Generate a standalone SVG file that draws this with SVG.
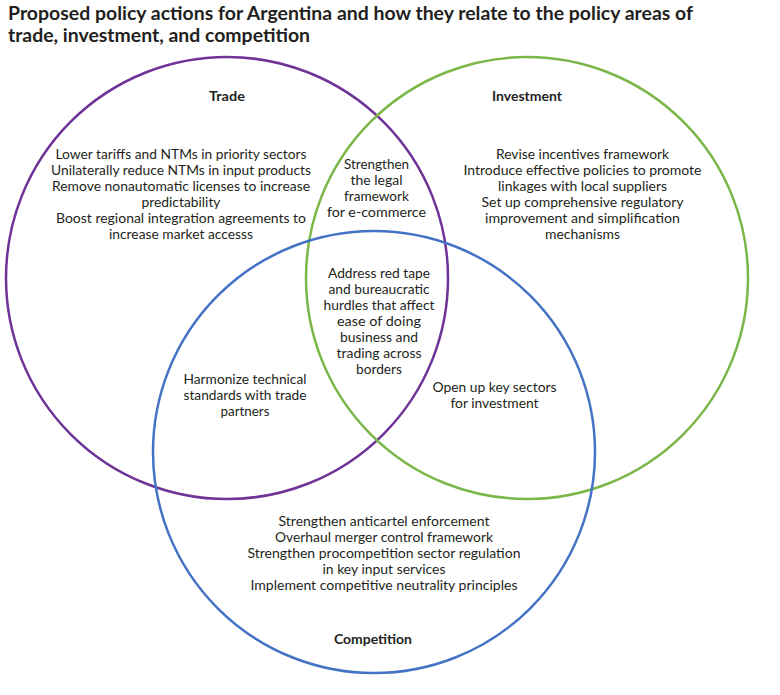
<svg xmlns="http://www.w3.org/2000/svg" width="780" height="695" viewBox="0 0 780 695">
<style>
.c{fill:none;stroke-width:2.5}
.t{font-family:Lato,"Open Sans","Liberation Sans",sans-serif;font-size:13px;fill:#231f20;text-anchor:middle}
.h{font-family:Lato,"Open Sans","Liberation Sans",sans-serif;font-size:13px;font-weight:bold;fill:#231f20;text-anchor:middle}
.ti{font-family:Lato,"Open Sans","Liberation Sans",sans-serif;font-size:19px;font-weight:bold;fill:#231f20}
</style>
<rect width="780" height="695" fill="#ffffff"/>
<g id="title">
<text class="ti" x="8" y="20" textLength="685" lengthAdjust="spacingAndGlyphs">Proposed policy actions for Argentina and how they relate to the policy areas of</text>
<text class="ti" x="8" y="42" textLength="302" lengthAdjust="spacingAndGlyphs">trade, investment, and competition</text>
</g>
<g id="trade">
<circle class="c" cx="227" cy="278" r="221" stroke="#6f3398"/>
<text class="h" x="227" y="101" textLength="36" lengthAdjust="spacingAndGlyphs">Trade</text>
<text class="t" x="181" y="159" textLength="251" lengthAdjust="spacingAndGlyphs">Lower tariffs and NTMs in priority sectors</text>
<text class="t" x="181" y="175" textLength="260" lengthAdjust="spacingAndGlyphs">Unilaterally reduce NTMs in input products</text>
<text class="t" x="181" y="191" textLength="258" lengthAdjust="spacingAndGlyphs">Remove nonautomatic licenses to increase</text>
<text class="t" x="181" y="207" textLength="79" lengthAdjust="spacingAndGlyphs">predictability</text>
<text class="t" x="181" y="223" textLength="250" lengthAdjust="spacingAndGlyphs">Boost regional integration agreements to</text>
<text class="t" x="181" y="239" textLength="144" lengthAdjust="spacingAndGlyphs">increase market accesss</text>
</g>
<g id="investment">
<circle class="c" cx="527" cy="278" r="221" stroke="#7ab648"/>
<text class="h" x="527" y="101" textLength="70" lengthAdjust="spacingAndGlyphs">Investment</text>
<text class="t" x="582.5" y="159" textLength="173" lengthAdjust="spacingAndGlyphs">Revise incentives framework</text>
<text class="t" x="582.5" y="175" textLength="238" lengthAdjust="spacingAndGlyphs">Introduce effective policies to promote</text>
<text class="t" x="582.5" y="191" textLength="169" lengthAdjust="spacingAndGlyphs">linkages with local suppliers</text>
<text class="t" x="582.5" y="207" textLength="202" lengthAdjust="spacingAndGlyphs">Set up comprehensive regulatory</text>
<text class="t" x="582.5" y="223" textLength="195" lengthAdjust="spacingAndGlyphs">improvement and simplification</text>
<text class="t" x="582.5" y="239" textLength="75" lengthAdjust="spacingAndGlyphs">mechanisms</text>
</g>
<g id="competition">
<circle class="c" cx="374" cy="452" r="221" stroke="#4472c4"/>
<text class="t" x="384" y="526" textLength="211" lengthAdjust="spacingAndGlyphs">Strengthen anticartel enforcement</text>
<text class="t" x="384" y="542" textLength="218" lengthAdjust="spacingAndGlyphs">Overhaul merger control framework</text>
<text class="t" x="384" y="558" textLength="273" lengthAdjust="spacingAndGlyphs">Strengthen procompetition sector regulation</text>
<text class="t" x="384" y="574" textLength="123" lengthAdjust="spacingAndGlyphs">in key input services</text>
<text class="t" x="384" y="590" textLength="267" lengthAdjust="spacingAndGlyphs">Implement competitive neutrality principles</text>
<text class="h" x="373" y="644" textLength="78" lengthAdjust="spacingAndGlyphs">Competition</text>
</g>
<g id="trade-investment">
<text class="t" x="376.5" y="169" textLength="65" lengthAdjust="spacingAndGlyphs">Strengthen</text>
<text class="t" x="376.5" y="185" textLength="52" lengthAdjust="spacingAndGlyphs">the legal</text>
<text class="t" x="376.5" y="201" textLength="65" lengthAdjust="spacingAndGlyphs">framework</text>
<text class="t" x="376.5" y="217" textLength="99" lengthAdjust="spacingAndGlyphs">for e-commerce</text>
</g>
<g id="all-three">
<text class="t" x="379" y="278" textLength="102" lengthAdjust="spacingAndGlyphs">Address red tape</text>
<text class="t" x="379" y="294" textLength="101" lengthAdjust="spacingAndGlyphs">and bureaucratic</text>
<text class="t" x="379" y="310" textLength="111" lengthAdjust="spacingAndGlyphs">hurdles that affect</text>
<text class="t" x="379" y="326" textLength="84" lengthAdjust="spacingAndGlyphs">ease of doing</text>
<text class="t" x="379" y="342" textLength="78" lengthAdjust="spacingAndGlyphs">business and</text>
<text class="t" x="379" y="358" textLength="85" lengthAdjust="spacingAndGlyphs">trading across</text>
<text class="t" x="379" y="374" textLength="46" lengthAdjust="spacingAndGlyphs">borders</text>
</g>
<g id="trade-competition">
<text class="t" x="245" y="384" textLength="123" lengthAdjust="spacingAndGlyphs">Harmonize technical</text>
<text class="t" x="245" y="400" textLength="123" lengthAdjust="spacingAndGlyphs">standards with trade</text>
<text class="t" x="245" y="416" textLength="49" lengthAdjust="spacingAndGlyphs">partners</text>
</g>
<g id="investment-competition">
<text class="t" x="494.5" y="392" textLength="124" lengthAdjust="spacingAndGlyphs">Open up key sectors</text>
<text class="t" x="494.5" y="408" textLength="88" lengthAdjust="spacingAndGlyphs">for investment</text>
</g>
<g id="connectors"/>
</svg>
